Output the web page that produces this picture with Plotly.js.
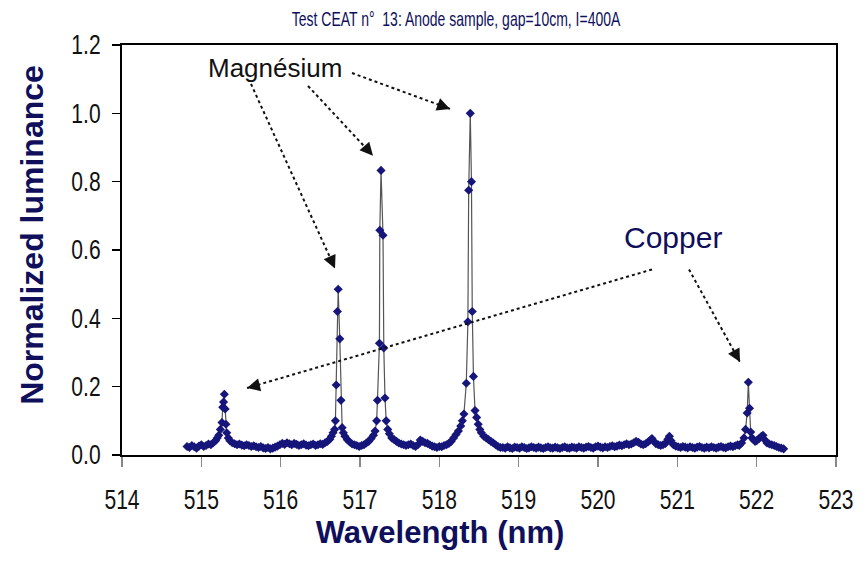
<!DOCTYPE html>
<html>
<head>
<meta charset="utf-8">
<script src="https://cdn.plot.ly/plotly-3.0.1.min.js"></script>
<style>html,body{margin:0;padding:0;background:#fff;}#chart{width:867px;height:562px;}</style>
</head>
<body>
<div id="chart"></div>
<script>
const wavelength = [
514.82,514.85,514.88,514.91,514.94,514.97,515.00,515.03,515.06,515.09,515.12,515.15,515.18,515.20,515.22,515.24,515.26,515.27,515.28,515.29,515.30,515.31,515.32,515.34,
515.36,515.39,515.42,515.45,515.48,515.51,515.54,515.57,515.60,515.63,515.66,515.69,515.72,515.75,515.78,515.81,515.84,515.87,515.90,515.93,515.96,515.99,
516.02,516.05,516.08,516.11,516.14,516.17,516.20,516.23,516.26,516.29,516.32,516.35,516.38,516.41,516.44,516.47,516.50,516.53,516.56,516.59,516.62,516.64,516.66,516.68,516.69,516.70,516.715,516.725,516.745,516.76,516.775,516.79,516.81,516.84,516.87,516.90,516.93,516.96,516.99,
517.02,517.05,517.08,517.11,517.14,517.17,517.19,517.21,517.22,517.245,517.25,517.265,517.29,517.30,517.315,517.33,517.35,517.37,517.40,517.43,517.46,517.49,517.52,517.55,517.58,517.61,517.64,517.67,517.70,517.73,517.76,517.79,517.82,517.85,517.88,517.91,517.94,517.97,
518.00,518.03,518.06,518.09,518.12,518.15,518.18,518.21,518.24,518.27,518.29,518.31,518.34,518.36,518.37,518.39,518.405,518.415,518.43,518.45,518.47,518.49,518.51,518.53,518.56,518.59,518.62,518.65,518.68,518.71,518.74,518.77,
518.80,518.83,518.86,518.89,518.92,518.95,518.98,519.01,519.04,519.07,519.10,519.13,519.16,519.19,519.22,519.25,519.28,519.31,519.34,519.37,519.40,519.43,519.46,519.49,519.52,519.55,519.58,519.61,519.64,519.67,519.70,519.73,519.76,519.79,519.82,519.85,519.88,519.91,519.94,519.97,
520.00,520.03,520.06,520.09,520.12,520.15,520.18,520.21,520.24,520.27,520.30,520.33,520.36,520.39,520.42,520.45,520.48,520.51,520.54,520.57,520.60,520.63,520.66,520.68,520.70,520.73,520.76,520.79,520.82,520.85,520.88,520.90,520.92,520.95,520.98,
521.01,521.04,521.07,521.10,521.13,521.16,521.19,521.22,521.25,521.28,521.31,521.34,521.37,521.40,521.43,521.46,521.49,521.52,521.55,521.58,521.61,521.64,521.67,521.70,521.73,521.76,
521.78,521.81,521.84,521.86,521.88,521.895,521.91,521.925,521.94,521.96,521.98,522.00,522.03,522.06,522.08,522.10,522.13,522.16,522.19,522.22,522.25,522.28,522.31,522.34
];
const luminance = [
0.025,0.022,0.028,0.024,0.020,0.026,0.030,0.025,0.028,0.032,0.030,0.036,0.042,0.050,0.058,0.075,0.095,0.140,0.155,0.178,0.135,0.090,0.065,0.050,
0.042,0.036,0.033,0.030,0.032,0.029,0.027,0.030,0.028,0.025,0.027,0.024,0.022,0.025,0.021,0.019,0.022,0.018,0.020,0.023,0.026,0.030,
0.034,0.031,0.036,0.033,0.030,0.034,0.031,0.028,0.030,0.033,0.029,0.027,0.030,0.032,0.028,0.030,0.033,0.031,0.036,0.040,0.046,0.055,0.065,0.075,0.100,0.205,0.420,0.485,0.340,0.160,0.080,0.065,0.055,0.045,0.038,0.032,0.030,0.028,0.025,
0.028,0.030,0.035,0.040,0.048,0.058,0.070,0.100,0.160,0.327,0.658,0.833,0.643,0.313,0.167,0.100,0.075,0.062,0.050,0.045,0.040,0.035,0.032,0.030,0.028,0.030,0.032,0.028,0.025,0.030,0.044,0.040,0.036,0.034,0.030,0.026,0.024,0.022,
0.025,0.024,0.028,0.030,0.034,0.040,0.050,0.060,0.070,0.085,0.100,0.120,0.210,0.390,0.775,1.000,0.800,0.420,0.230,0.130,0.110,0.090,0.075,0.065,0.055,0.050,0.045,0.040,0.035,0.030,0.025,0.022,
0.022,0.020,0.024,0.021,0.019,0.023,0.022,0.020,0.024,0.022,0.019,0.021,0.024,0.022,0.020,0.023,0.021,0.019,0.022,0.024,0.021,0.020,0.023,0.021,0.019,0.022,0.024,0.021,0.020,0.023,0.022,0.020,0.024,0.022,0.020,0.023,0.025,0.022,0.020,0.024,
0.026,0.023,0.021,0.024,0.022,0.025,0.027,0.024,0.026,0.029,0.027,0.030,0.033,0.030,0.032,0.036,0.040,0.037,0.032,0.030,0.033,0.038,0.044,0.048,0.041,0.033,0.030,0.028,0.030,0.034,0.046,0.055,0.042,0.030,0.026,
0.024,0.022,0.025,0.023,0.021,0.024,0.022,0.020,0.023,0.025,0.022,0.020,0.023,0.021,0.024,0.022,0.020,0.023,0.025,0.022,0.021,0.024,0.026,0.024,0.027,0.030,
0.028,0.035,0.050,0.075,0.123,0.213,0.137,0.067,0.050,0.045,0.040,0.042,0.048,0.055,0.058,0.045,0.035,0.032,0.030,0.028,0.025,0.022,0.020,0.018
];
const xTickValues = [514,515,516,517,518,519,520,521,522,523];
const yTickValues = [0,0.2,0.4,0.6,0.8,1.0,1.2];
const titleText = 'Test CEAT n°  13: Anode sample, gap=10cm, I=400A';
const xTitle = 'Wavelength (nm)';
const yTitle = 'Normalized luminance';

const navy = '#0f0f5c';
const fam = '"Liberation Sans", Arial, sans-serif';

// arrows: [tailX, tailY, headX, headY, headAx, headAy]
const arrows = [
  [515.626,1.086,516.685,0.546,-5,-11],
  [516.345,1.080,517.164,0.876,-8,-9],
  [516.899,1.118,518.135,1.013,-11,-4],
  [520.681,0.543,515.576,0.196,12,-3],
  [521.147,0.543,521.790,0.272,-6,-11]
];

const shapes = arrows.map(a => ({
  type:'line', xref:'x', yref:'y', x0:a[0], y0:a[1], x1:a[2], y1:a[3],
  line:{color:'#111', width:2, dash:'dot'}, layer:'above'
}));
const annotations = arrows.map(a => ({
  x:a[2], y:a[3], xref:'x', yref:'y', ax:a[4], ay:a[5], text:'',
  showarrow:true, arrowhead:2, arrowsize:1.3, arrowwidth:2, arrowcolor:'#111', standoff:0
}));
annotations.push({x:515.93, y:1.133, xref:'x', yref:'y', text:'Magnésium', showarrow:false,
  font:{family:fam, size:26, color:'#111'}, xanchor:'center', yanchor:'middle'});
annotations.push({x:520.946, y:0.636, xref:'x', yref:'y', text:'Copper', showarrow:false,
  font:{family:fam, size:30, color:navy}, xanchor:'center', yanchor:'middle'});

const trace = {
  x: wavelength, y: luminance, type:'scatter', mode:'lines+markers',
  line:{color:'#555', width:1.2},
  marker:{symbol:'diamond', size:7, color:'#15157a', line:{width:0}},
  hoverinfo:'x+y', showlegend:false
};

const layout = {
  width:867, height:562,
  margin:{l:122, r:31, t:45, b:107},
  paper_bgcolor:'#ffffff', plot_bgcolor:'#ffffff',
  title:{text:titleText, x:0.526, xanchor:'center', xref:'container', y:0.966, yanchor:'middle',
    font:{family:fam, size:20, color:navy}},
  xaxis:{range:[514,523], tickvals:xTickValues, ticks:'outside', ticklen:10, tickwidth:1.5, tickcolor:'#888',
    showline:true, linecolor:'#000', linewidth:2, mirror:true, showgrid:false, zeroline:false,
    tickfont:{family:fam, size:27, color:'#111'}, ticklabelstandoff:10,
    title:{text:'<b>'+xTitle+'</b>', font:{family:fam, size:31, color:navy}, standoff:2}},
  yaxis:{range:[0,1.2], tickvals:yTickValues, tickformat:'.1f', ticks:'outside', ticklen:8, tickwidth:1.5, tickcolor:'#000',
    showline:true, linecolor:'#000', linewidth:2, mirror:true, showgrid:false, zeroline:false,
    tickfont:{family:fam, size:27, color:'#111'}, ticklabelstandoff:6,
    title:{text:'<b>'+yTitle+'</b>', font:{family:fam, size:32, color:navy}, standoff:10}},
  shapes: shapes,
  annotations: annotations
};

function narrowText(el, sx) {
  const x = parseFloat(el.getAttribute('x')) || 0;
  const prev = el.getAttribute('transform') || '';
  el.setAttribute('transform', prev + ' translate(' + x + ',0) scale(' + sx + ',1) translate(' + (-x) + ',0)');
}
function shiftText(el, dx, dy) {
  const prev = el.getAttribute('transform') || '';
  el.setAttribute('transform', 'translate(' + dx + ',' + dy + ') ' + prev);
}

Plotly.newPlot('chart', [trace], layout, {displayModeBar:false, staticPlot:true}).then(gd => {
  gd.querySelectorAll('.gtitle').forEach(el => narrowText(el, 0.7));
  gd.querySelectorAll('.xtick text, .ytick text').forEach(el => narrowText(el, 0.78));
  gd.querySelectorAll('.g-xtitle text').forEach(el => shiftText(el, -39, 0));
  gd.querySelectorAll('.g-ytitle text').forEach(el => shiftText(el, 0, -15));
});
</script>
</body>
</html>
